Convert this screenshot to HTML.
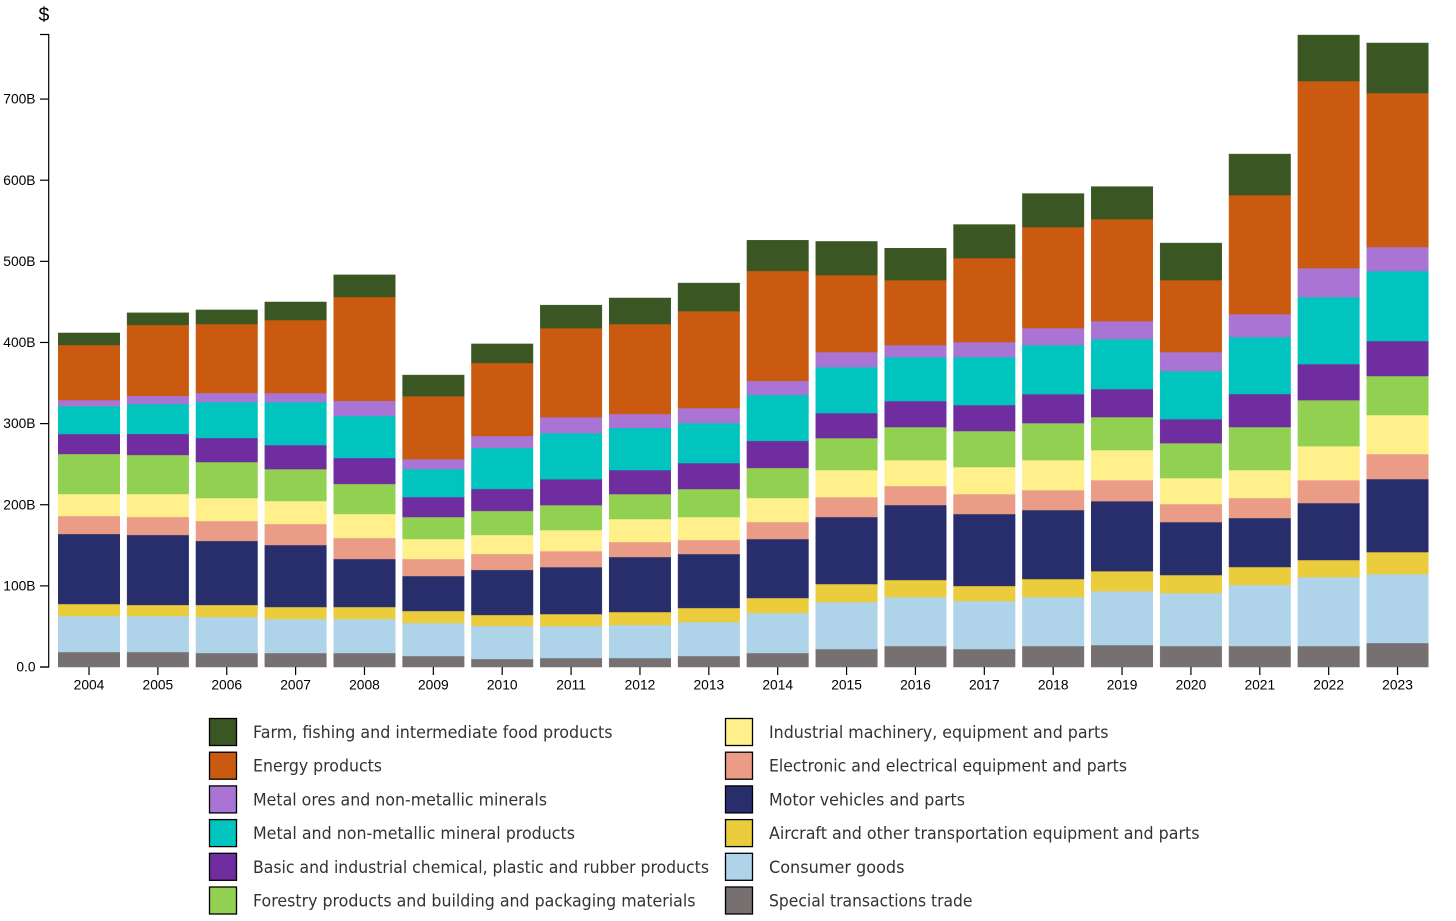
<!DOCTYPE html>
<html lang="en">
<head>
<meta charset="utf-8">
<title>Exports by product, 2004-2023</title>
<style>
html,body{margin:0;padding:0;background:#fff;}
svg{display:block;}
.tick-label{font-family:"Liberation Sans",Arial,sans-serif;font-size:13.8px;fill:#000;}
.legend-text{font-family:"DejaVu Sans",sans-serif;font-size:16.5px;fill:#333;}
</style>
</head>
<body>
<svg id="chart" xmlns="http://www.w3.org/2000/svg" width="1456" height="921" viewBox="0 0 1456 921">
  <text x="38.5" y="21" style="font-family:'Liberation Sans',sans-serif;font-size:19.5px;fill:#000;">$</text>
  <g id="bars"></g>
  <g id="y-axis"></g>
  <g id="x-axis"></g>
  <g>
    <g><rect x="209.5" y="718.5" width="27" height="27" fill="#3a5622" stroke="#000" stroke-width="1.3"/><text class="legend-text" x="253" y="738" textLength="359.5" lengthAdjust="spacingAndGlyphs">Farm, fishing and intermediate food products</text></g>
    <g><rect x="209.5" y="752.2" width="27" height="27" fill="#c95a10" stroke="#000" stroke-width="1.3"/><text class="legend-text" x="253" y="771.7" textLength="129" lengthAdjust="spacingAndGlyphs">Energy products</text></g>
    <g><rect x="209.5" y="785.9" width="27" height="27" fill="#a974d4" stroke="#000" stroke-width="1.3"/><text class="legend-text" x="253" y="805.4" textLength="294" lengthAdjust="spacingAndGlyphs">Metal ores and non-metallic minerals</text></g>
    <g><rect x="209.5" y="819.6" width="27" height="27" fill="#00c4bd" stroke="#000" stroke-width="1.3"/><text class="legend-text" x="253" y="839.1" textLength="322" lengthAdjust="spacingAndGlyphs">Metal and non-metallic mineral products</text></g>
    <g><rect x="209.5" y="853.3" width="27" height="27" fill="#6f2da0" stroke="#000" stroke-width="1.3"/><text class="legend-text" x="253" y="872.8" textLength="456" lengthAdjust="spacingAndGlyphs">Basic and industrial chemical, plastic and rubber products</text></g>
    <g><rect x="209.5" y="887" width="27" height="27" fill="#91d050" stroke="#000" stroke-width="1.3"/><text class="legend-text" x="253" y="906.5" textLength="442.5" lengthAdjust="spacingAndGlyphs">Forestry products and building and packaging materials</text></g>
    <g><rect x="725.5" y="718.5" width="27" height="27" fill="#fff08c" stroke="#000" stroke-width="1.3"/><text class="legend-text" x="769" y="738" textLength="339.5" lengthAdjust="spacingAndGlyphs">Industrial machinery, equipment and parts</text></g>
    <g><rect x="725.5" y="752.2" width="27" height="27" fill="#ea9c86" stroke="#000" stroke-width="1.3"/><text class="legend-text" x="769" y="771.7" textLength="358" lengthAdjust="spacingAndGlyphs">Electronic and electrical equipment and parts</text></g>
    <g><rect x="725.5" y="785.9" width="27" height="27" fill="#282e6c" stroke="#000" stroke-width="1.3"/><text class="legend-text" x="769" y="805.4" textLength="196" lengthAdjust="spacingAndGlyphs">Motor vehicles and parts</text></g>
    <g><rect x="725.5" y="819.6" width="27" height="27" fill="#ebcc3c" stroke="#000" stroke-width="1.3"/><text class="legend-text" x="769" y="839.1" textLength="430.5" lengthAdjust="spacingAndGlyphs">Aircraft and other transportation equipment and parts</text></g>
    <g><rect x="725.5" y="853.3" width="27" height="27" fill="#afd3e8" stroke="#000" stroke-width="1.3"/><text class="legend-text" x="769" y="872.8" textLength="135.5" lengthAdjust="spacingAndGlyphs">Consumer goods</text></g>
    <g><rect x="725.5" y="887" width="27" height="27" fill="#767070" stroke="#000" stroke-width="1.3"/><text class="legend-text" x="769" y="906.5" textLength="203.5" lengthAdjust="spacingAndGlyphs">Special transactions trade</text></g>
  </g>
</svg>
<script>
const years = [2004,2005,2006,2007,2008,2009,2010,2011,2012,2013,2014,2015,2016,2017,2018,2019,2020,2021,2022,2023];
const yTicks = [0,100,200,300,400,500,600,700];
const special = [18.5,18.5,17.3,17.3,17.3,13.6,9.9,11.1,11.1,13.6,17.3,22.2,25.9,22.2,25.9,27.1,25.9,25.9,25.9,29.6];
const consumer = [44.4,44.4,44.4,41.9,41.9,40.7,40.7,39.4,40.7,41.9,49.3,57.9,60.4,59.2,60.4,66.5,65.3,75.2,85.0,85.0];
const aircraft = [14.8,13.6,14.8,14.8,14.8,14.8,13.6,14.8,16.0,17.3,18.5,22.2,21.0,18.5,22.2,24.6,22.2,22.2,21.0,27.1];
const motor = [86.3,86.3,78.9,76.4,59.2,43.1,55.5,57.9,67.8,66.5,72.7,82.6,92.4,88.7,85.0,86.3,65.3,60.4,70.2,90.0];
const electronic = [22.2,22.2,24.6,25.9,25.9,21.0,19.7,19.7,18.5,17.3,21.0,24.6,23.4,24.6,24.6,25.9,22.2,24.6,28.3,30.8];
const machinery = [27.1,28.3,28.3,28.3,29.6,24.6,23.4,25.9,28.3,28.3,29.6,33.3,32.0,33.3,37.0,37.0,32.0,34.5,41.9,48.1];
const forestry = [49.3,48.1,44.4,39.4,37.0,27.1,29.6,30.8,30.8,34.5,37.0,39.4,40.7,44.4,45.6,40.7,43.1,53.0,56.7,48.1];
const chemical = [24.6,25.9,29.6,29.6,32.0,24.6,27.1,32.0,29.6,32.0,33.3,30.8,32.0,32.0,35.7,34.5,29.6,40.7,44.4,43.1];
const metalProducts = [34.5,37.0,44.4,53.0,51.8,34.5,50.5,56.7,51.8,49.3,56.7,56.7,54.2,59.2,60.4,61.6,59.2,70.2,82.6,86.3];
const metalOres = [7.4,9.9,11.1,11.1,18.5,12.3,14.8,19.7,17.3,18.5,17.3,18.5,14.8,18.5,21.0,22.2,23.4,28.3,35.7,29.6];
const energy = [67.8,87.5,85.0,90.0,128.2,77.6,90.0,109.7,110.9,119.5,135.6,94.9,80.1,103.5,124.5,125.7,88.7,146.7,230.5,189.8];
const farm = [14.8,14.8,17.3,22.2,27.1,25.9,23.4,28.3,32.0,34.5,37.6,41.4,39.2,41.2,41.2,40.0,45.6,50.5,56.7,61.6];

const seriesNames = ['special','consumer','aircraft','motor','electronic','machinery','forestry','chemical','metal-products','metal-ores','energy','farm'];
const seriesValues = [special,consumer,aircraft,motor,electronic,machinery,forestry,chemical,metalProducts,metalOres,energy,farm];
const seriesColors = ['#767070','#afd3e8','#ebcc3c','#282e6c','#ea9c86','#fff08c','#91d050','#6f2da0','#00c4bd','#a974d4','#c95a10','#3a5622'];

const NS = 'http://www.w3.org/2000/svg';
const plotBottom = 667;
const plotTop = 34.5;
const yMax = 779.6;
const firstCenter = 89;
const step = 68.87;
const barWidth = 61.5;
const axisX = 48.7;
function yScale(v){ return plotBottom - (v / yMax) * (plotBottom - plotTop); }
function xScale(i){ return firstCenter + i * step; }
function make(tag, attrs, parent){
  const el = document.createElementNS(NS, tag);
  for (const k in attrs) el.setAttribute(k, attrs[k]);
  parent.appendChild(el);
  return el;
}

const barsGroup = document.getElementById('bars');
years.forEach(function(year, i){
  let cum = 0;
  seriesValues.forEach(function(values, s){
    const y0 = yScale(cum);
    cum += values[i];
    const y1 = yScale(cum);
    const r = make('rect', {x: xScale(i) - barWidth / 2, y: y1, width: barWidth, height: y0 - y1, fill: seriesColors[s], stroke: seriesColors[s], 'stroke-width': 0.5}, barsGroup);
    
    
  });
});

const yAxis = document.getElementById('y-axis');
const yDomain = make('path', {d: 'M40 ' + plotTop + 'H' + axisX + 'V' + plotBottom + 'H40', fill: 'none', stroke: '#000', 'stroke-width': 1.2}, yAxis);


yTicks.forEach(function(t){
  const y = yScale(t);
  const line = make('line', {x1: 40, x2: axisX, y1: y, y2: y, stroke: '#000', 'stroke-width': 1.2}, yAxis);
  
  
  const label = make('text', {x: 35.5, y: y + 4.6, 'text-anchor': 'end', 'class': 'tick-label'}, yAxis);
  
  
  label.textContent = t === 0 ? '0.0' : t + 'B';
});

const xAxis = document.getElementById('x-axis');
years.forEach(function(year, i){
  const x = xScale(i);
  const line = make('line', {x1: x, x2: x, y1: plotBottom, y2: plotBottom + 8, stroke: '#000', 'stroke-width': 1.2}, xAxis);
  
  
  const label = make('text', {x: x, y: 689.5, 'text-anchor': 'middle', 'class': 'tick-label'}, xAxis);
  
  
  label.textContent = year;
});
</script>
</body>
</html>
